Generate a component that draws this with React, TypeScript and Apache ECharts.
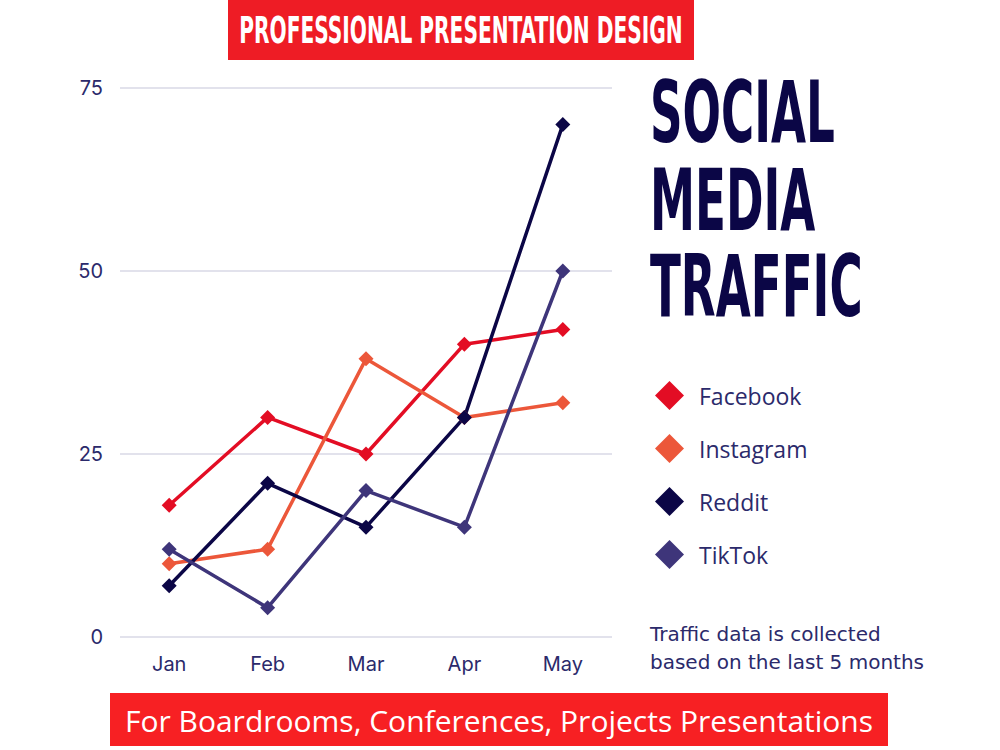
import React, { useEffect, useRef } from "react";
import * as echarts from "echarts";

const months = ["Jan", "Feb", "Mar", "Apr", "May"];
const facebook = [18, 30, 25, 40, 42];
const instagram = [10, 12, 38, 30, 32];
const reddit = [7, 21, 15, 30, 70];
const tiktok = [12, 4, 20, 15, 50];
const seriesNames = ["Facebook", "Instagram", "Reddit", "TikTok"];
const colors = ["#e30d24", "#ec573a", "#0b0646", "#3e357a"];
const titleLines = ["SOCIAL", "MEDIA", "TRAFFIC"];
const topBanner = "PROFESSIONAL PRESENTATION DESIGN";
const bottomBanner = "For Boardrooms, Conferences, Projects Presentations";
const note = ["Traffic data is collected", "based on the last 5 months"];

const textColor = "#2b2a6b";
const narrow = "'Liberation Sans Narrow', 'DejaVu Sans Condensed', sans-serif";

export default function App() {
  const ref = useRef<HTMLDivElement>(null);
  useEffect(() => {
    document.body.style.margin = "0";
    const chart = echarts.init(ref.current!, null, { renderer: "svg" });
    const data = [facebook, instagram, reddit, tiktok];
    chart.setOption({
      animation: false,
      backgroundColor: "#ffffff",
      grid: { left: 120, right: 388, top: 88, bottom: 113 },
      xAxis: {
        type: "category",
        data: months,
        boundaryGap: true,
        axisLine: { show: false },
        axisTick: { show: false },
        axisLabel: { color: textColor, fontSize: 20, margin: 17, fontFamily: "Inter, sans-serif" },
      },
      yAxis: {
        type: "value",
        min: 0,
        max: 75,
        interval: 25,
        axisLine: { show: false },
        axisTick: { show: false },
        axisLabel: { color: textColor, fontSize: 20, margin: 17, fontFamily: "Inter, sans-serif" },
        splitLine: { lineStyle: { color: "#d9d9e6", width: 1.5 } },
      },
      legend: {
        orient: "vertical",
        left: 650,
        top: 376,
        icon: "diamond",
        itemWidth: 29,
        itemHeight: 29,
        itemGap: 24,
        data: seriesNames,
        textStyle: { color: textColor, fontSize: 23, padding: [0, 0, 0, 10], fontFamily: "'Open Sans', sans-serif" },
      },
      series: seriesNames.map((n, i) => ({
        name: n,
        type: "line",
        data: data[i],
        symbol: "diamond",
        symbolSize: 15,
        color: colors[i],
        lineStyle: { width: 3.5, color: colors[i] },
        itemStyle: { color: colors[i] },
      })),
      graphic: [
        { type: "rect", shape: { x: 228, y: 0, width: 466, height: 60 }, style: { fill: "#ee1c25" } },
        {
          type: "text",
          x: 461,
          y: 30,
          scaleX: 0.59,
          style: {
            text: topBanner,
            fill: "#ffffff",
            font: `bold 38px ${narrow}`,
            textAlign: "center",
            textVerticalAlign: "middle",
          },
        },
        ...titleLines.map((t, i) => ({
          type: "text",
          x: 650,
          y: [113, 201, 287][i],
          scaleX: 0.585,
          style: {
            text: t,
            fill: "#0b0646",
            font: `bold 86px ${narrow}`,
            textAlign: "left",
            textVerticalAlign: "middle",
          },
        })),
        ...note.map((t, i) => ({
          type: "text",
          x: 650,
          y: [634, 662][i],
          style: {
            text: t,
            fill: textColor,
            font: "20px 'DejaVu Sans', sans-serif",
            textAlign: "left",
            textVerticalAlign: "middle",
          },
        })),
        { type: "rect", shape: { x: 110, y: 693, width: 778, height: 53 }, style: { fill: "#f72023" } },
        {
          type: "text",
          x: 499,
          y: 720,
          style: {
            text: bottomBanner,
            fill: "#ffffff",
            font: "30px 'Open Sans', sans-serif",
            textAlign: "center",
            textVerticalAlign: "middle",
          },
        },
      ],
    });
    return () => chart.dispose();
  }, []);
  return <div ref={ref} style={{ width: 1000, height: 750 }} />;
}
